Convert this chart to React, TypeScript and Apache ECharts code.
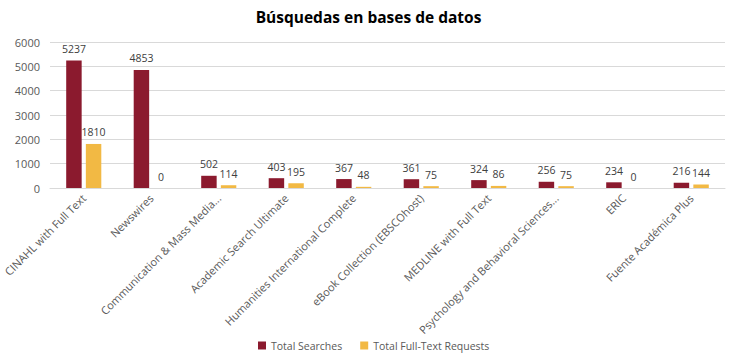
import React, { useEffect, useRef } from "react";
import * as echarts from "echarts";

const categories = [
  "CINAHL with Full Text",
  "Newswires",
  "Communication & Mass Media...",
  "Academic Search Ultimate",
  "Humanities International Complete",
  "eBook Collection (EBSCOhost)",
  "MEDLINE with Full Text",
  "Psychology and Behavioral Sciences...",
  "ERIC",
  "Fuente Académica Plus",
];
const totalSearches = [5237, 4853, 502, 403, 367, 361, 324, 256, 234, 216];
const totalFullText = [1810, 0, 114, 195, 48, 75, 86, 75, 0, 144];
const seriesNames = ["Total Searches", "Total Full-Text Requests"];

const FONT = "'Open Sans', 'Noto Sans', sans-serif";

export default function App() {
  const ref = useRef<HTMLDivElement>(null);
  useEffect(() => {
    if (!ref.current) return;
    document.body.style.margin = "0";
    const chart = echarts.init(ref.current, undefined, { renderer: "svg" });
    chart.setOption({
      animation: false,
      textStyle: { fontFamily: FONT },
      title: {
        text: "Búsquedas en bases de datos",
        left: "center",
        top: 4,
        textStyle: { fontFamily: FONT, fontSize: 15.5, fontWeight: "bold", color: "#000" },
      },
      legend: {
        bottom: 6,
        left: 253,
        itemWidth: 8,
        itemHeight: 8,
        itemGap: 18,
        icon: "rect",
        textStyle: { fontFamily: FONT, fontSize: 10.5, color: "#595959" },
        data: seriesNames,
      },
      grid: { left: 50, right: 12, top: 42, bottom: 174, containLabel: false },
      xAxis: {
        type: "category",
        data: categories,
        axisTick: { show: false },
        axisLine: { lineStyle: { color: "#d9d9d9" } },
        axisLabel: {
          rotate: 45,
          interval: 0,
          margin: 8,
          fontFamily: FONT,
          fontSize: 11,
          color: "#595959",
        },
      },
      yAxis: {
        type: "value",
        min: 0,
        max: 6000,
        interval: 1000,
        axisLine: { show: false },
        axisTick: { show: false },
        splitLine: { lineStyle: { color: "#d9d9d9" } },
        axisLabel: {
          fontFamily: FONT,
          fontSize: 11,
          color: "#595959",
          margin: 10,
          formatter: (v: number) => String(v),
        },
      },
      series: [
        {
          name: seriesNames[0],
          type: "bar",
          data: totalSearches,
          barGap: "27%",
          barCategoryGap: "48%",
          itemStyle: { color: "#8B1A2E" },
          label: { show: true, position: "top", fontFamily: FONT, fontSize: 10.5, color: "#404040", distance: 6 },
        },
        {
          name: seriesNames[1],
          type: "bar",
          data: totalFullText,
          itemStyle: { color: "#F2B944" },
          label: { show: true, position: "top", fontFamily: FONT, fontSize: 10.5, color: "#404040", distance: 6 },
        },
      ],
    });
    return () => chart.dispose();
  }, []);
  return <div ref={ref} style={{ width: 737, height: 362 }} />;
}
